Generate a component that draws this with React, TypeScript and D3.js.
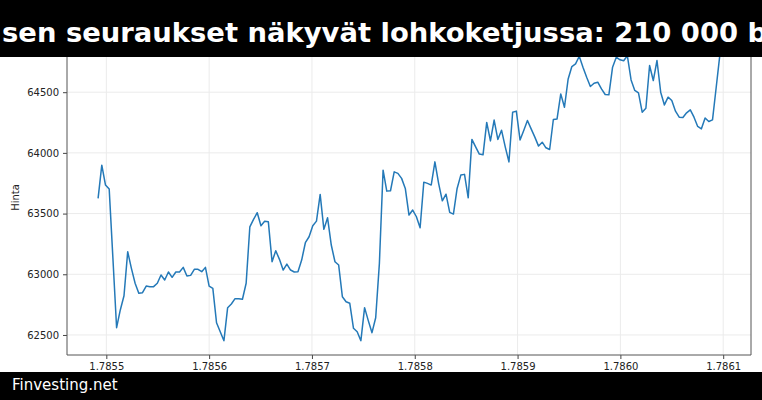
import { useEffect, useRef } from "react";
import * as d3 from "d3";

// Hourly closing prices, one week
const prices = [
  63625, 63899, 63735, 63702, 63134, 62560, 62706, 62823, 63186, 63049,
  62926, 62843, 62848, 62903, 62898, 62898, 62926, 62994, 62953, 63019,
  62975, 63019, 63019, 63057, 62986, 62991, 63041, 63041, 63021, 63057,
  62903, 62884, 62601, 62527, 62453, 62725, 62755, 62799, 62799, 62794,
  62926, 63391, 63452, 63507, 63400, 63436, 63432, 63103, 63194, 63123,
  63035, 63084, 63035, 63019, 63021, 63117, 63260, 63309, 63400, 63438,
  63658, 63370, 63465, 63241, 63103, 63076, 62815, 62774, 62761, 62555,
  62527, 62453, 62725, 62618, 62519, 62642, 63090, 63858, 63685, 63688,
  63844, 63831, 63790, 63707, 63488, 63529, 63474, 63383, 63759, 63749,
  63735, 63926, 63749, 63605, 63660, 63510, 63496, 63707, 63817, 63823,
  63630, 64111, 64050, 63990, 63984, 64251, 64099, 64270, 64111, 64187,
  64050, 63926, 64335, 64344, 64107, 64185, 64267, 64198, 64130, 64056,
  64088, 64042, 64028, 64275, 64280, 64486, 64376, 64609, 64711, 64733,
  64796, 64706, 64623, 64547, 64574, 64582, 64527, 64481, 64478, 64706,
  64788, 64767, 64759, 64800, 64601, 64514, 64494, 64335, 64368, 64720,
  64596, 64761, 64500, 64395, 64459, 64432, 64344, 64294, 64292, 64330,
  64354, 64294, 64218, 64198, 64288, 64259, 64272, 64541, 64812,
];

const START_TIME = 1785492000; // unix seconds of first sample
const STEP = 3600; // one sample per hour

const xTicks = [
  1785500000, 1785600000, 1785700000, 1785800000, 1785900000, 1786000000,
  1786100000,
];
const yTicks = [62500, 63000, 63500, 64000, 64500];

const TITLE = "sen seuraukset näkyvät lohkoketjussa: 210 000 b";
const FOOTER = "Finvesting.net";
const Y_LABEL = "Hinta";

const W = 762;
const H = 400;
const M = { top: 40, right: 11, bottom: 45, left: 67 };
const FONT = "DejaVu Sans, sans-serif";

export default function App() {
  const svgRef = useRef<SVGSVGElement>(null);

  useEffect(() => {
    if (!svgRef.current) return;
    const svg = d3.select(svgRef.current);
    svg.selectAll("*").remove();

    const data = prices.map((p, i) => ({ t: START_TIME + i * STEP, p }));
    const innerW = W - M.left - M.right;
    const innerH = H - M.top - M.bottom;

    // matplotlib style 5% margins
    const [t0, t1] = d3.extent(data, (d) => d.t) as [number, number];
    const [p0, p1] = d3.extent(data, (d) => d.p) as [number, number];
    const tPad = (t1 - t0) * 0.05;
    const pPad = (p1 - p0) * 0.05;

    const x = d3.scaleLinear().domain([t0 - tPad, t1 + tPad]).range([0, innerW]);
    const y = d3.scaleLinear().domain([p0 - pPad, p1 + pPad]).range([innerH, 0]);

    svg.append("rect").attr("width", W).attr("height", H).attr("fill", "#fff");

    const g = svg.append("g").attr("transform", `translate(${M.left},${M.top})`);

    // grid
    g.append("g")
      .selectAll("line")
      .data(xTicks)
      .join("line")
      .attr("x1", (d) => x(d))
      .attr("x2", (d) => x(d))
      .attr("y1", 0)
      .attr("y2", innerH)
      .attr("stroke", "#ebebeb")
      .attr("stroke-width", 1);
    g.append("g")
      .selectAll("line")
      .data(yTicks)
      .join("line")
      .attr("x1", 0)
      .attr("x2", innerW)
      .attr("y1", (d) => y(d))
      .attr("y2", (d) => y(d))
      .attr("stroke", "#ebebeb")
      .attr("stroke-width", 1);

    // price line
    const line = d3
      .line<{ t: number; p: number }>()
      .x((d) => x(d.t))
      .y((d) => y(d.p));
    g.append("path")
      .datum(data)
      .attr("d", line)
      .attr("fill", "none")
      .attr("stroke", "#2479b8")
      .attr("stroke-width", 1.5)
      .attr("stroke-linejoin", "round");

    // axes
    const xAxis = d3
      .axisBottom(x)
      .tickValues(xTicks)
      .tickSize(4)
      .tickPadding(4)
      .tickFormat((d) => (+d / 1e9).toFixed(4));
    const yAxis = d3
      .axisLeft(y)
      .tickValues(yTicks)
      .tickSize(4)
      .tickPadding(4)
      .tickFormat((d) => String(d));

    const gx = g.append("g").attr("transform", `translate(0,${innerH})`).call(xAxis);
    const gy = g.append("g").call(yAxis);
    [gx, gy].forEach((a) => {
      a.select(".domain").remove();
      a.selectAll(".tick line").attr("stroke", "#444");
      a.selectAll(".tick text")
        .attr("fill", "#222")
        .style("font-family", FONT)
        .style("font-size", "10px");
    });

    // spines (left, bottom, right)
    g.append("path")
      .attr("d", `M0,0V${innerH}H${innerW}V0`)
      .attr("fill", "none")
      .attr("stroke", "#555")
      .attr("stroke-width", 1);

    g.append("text")
      .attr("transform", `translate(${-48},${innerH / 2}) rotate(-90)`)
      .attr("text-anchor", "middle")
      .attr("fill", "#222")
      .style("font-family", FONT)
      .style("font-size", "10px")
      .text(Y_LABEL);

    // title band
    svg.append("rect").attr("x", 0).attr("y", 0).attr("width", W).attr("height", 57).attr("fill", "#000");
    svg.append("text")
      .attr("x", 2)
      .attr("y", 42)
      .attr("fill", "#fff")
      .style("font-family", FONT)
      .style("font-weight", "bold")
      .style("font-size", "27.4px")
      .text(TITLE);

    // footer band
    svg.append("rect").attr("x", 0).attr("y", 372).attr("width", W).attr("height", H - 372).attr("fill", "#000");
    svg.append("text")
      .attr("x", 12)
      .attr("y", 390)
      .attr("fill", "#fff")
      .style("font-family", FONT)
      .style("font-size", "15px")
      .text(FOOTER);
  }, []);

  return (
    <svg
      ref={svgRef}
      width={W}
      height={H}
      style={{ position: "fixed", top: 0, left: 0, display: "block" }}
    />
  );
}
